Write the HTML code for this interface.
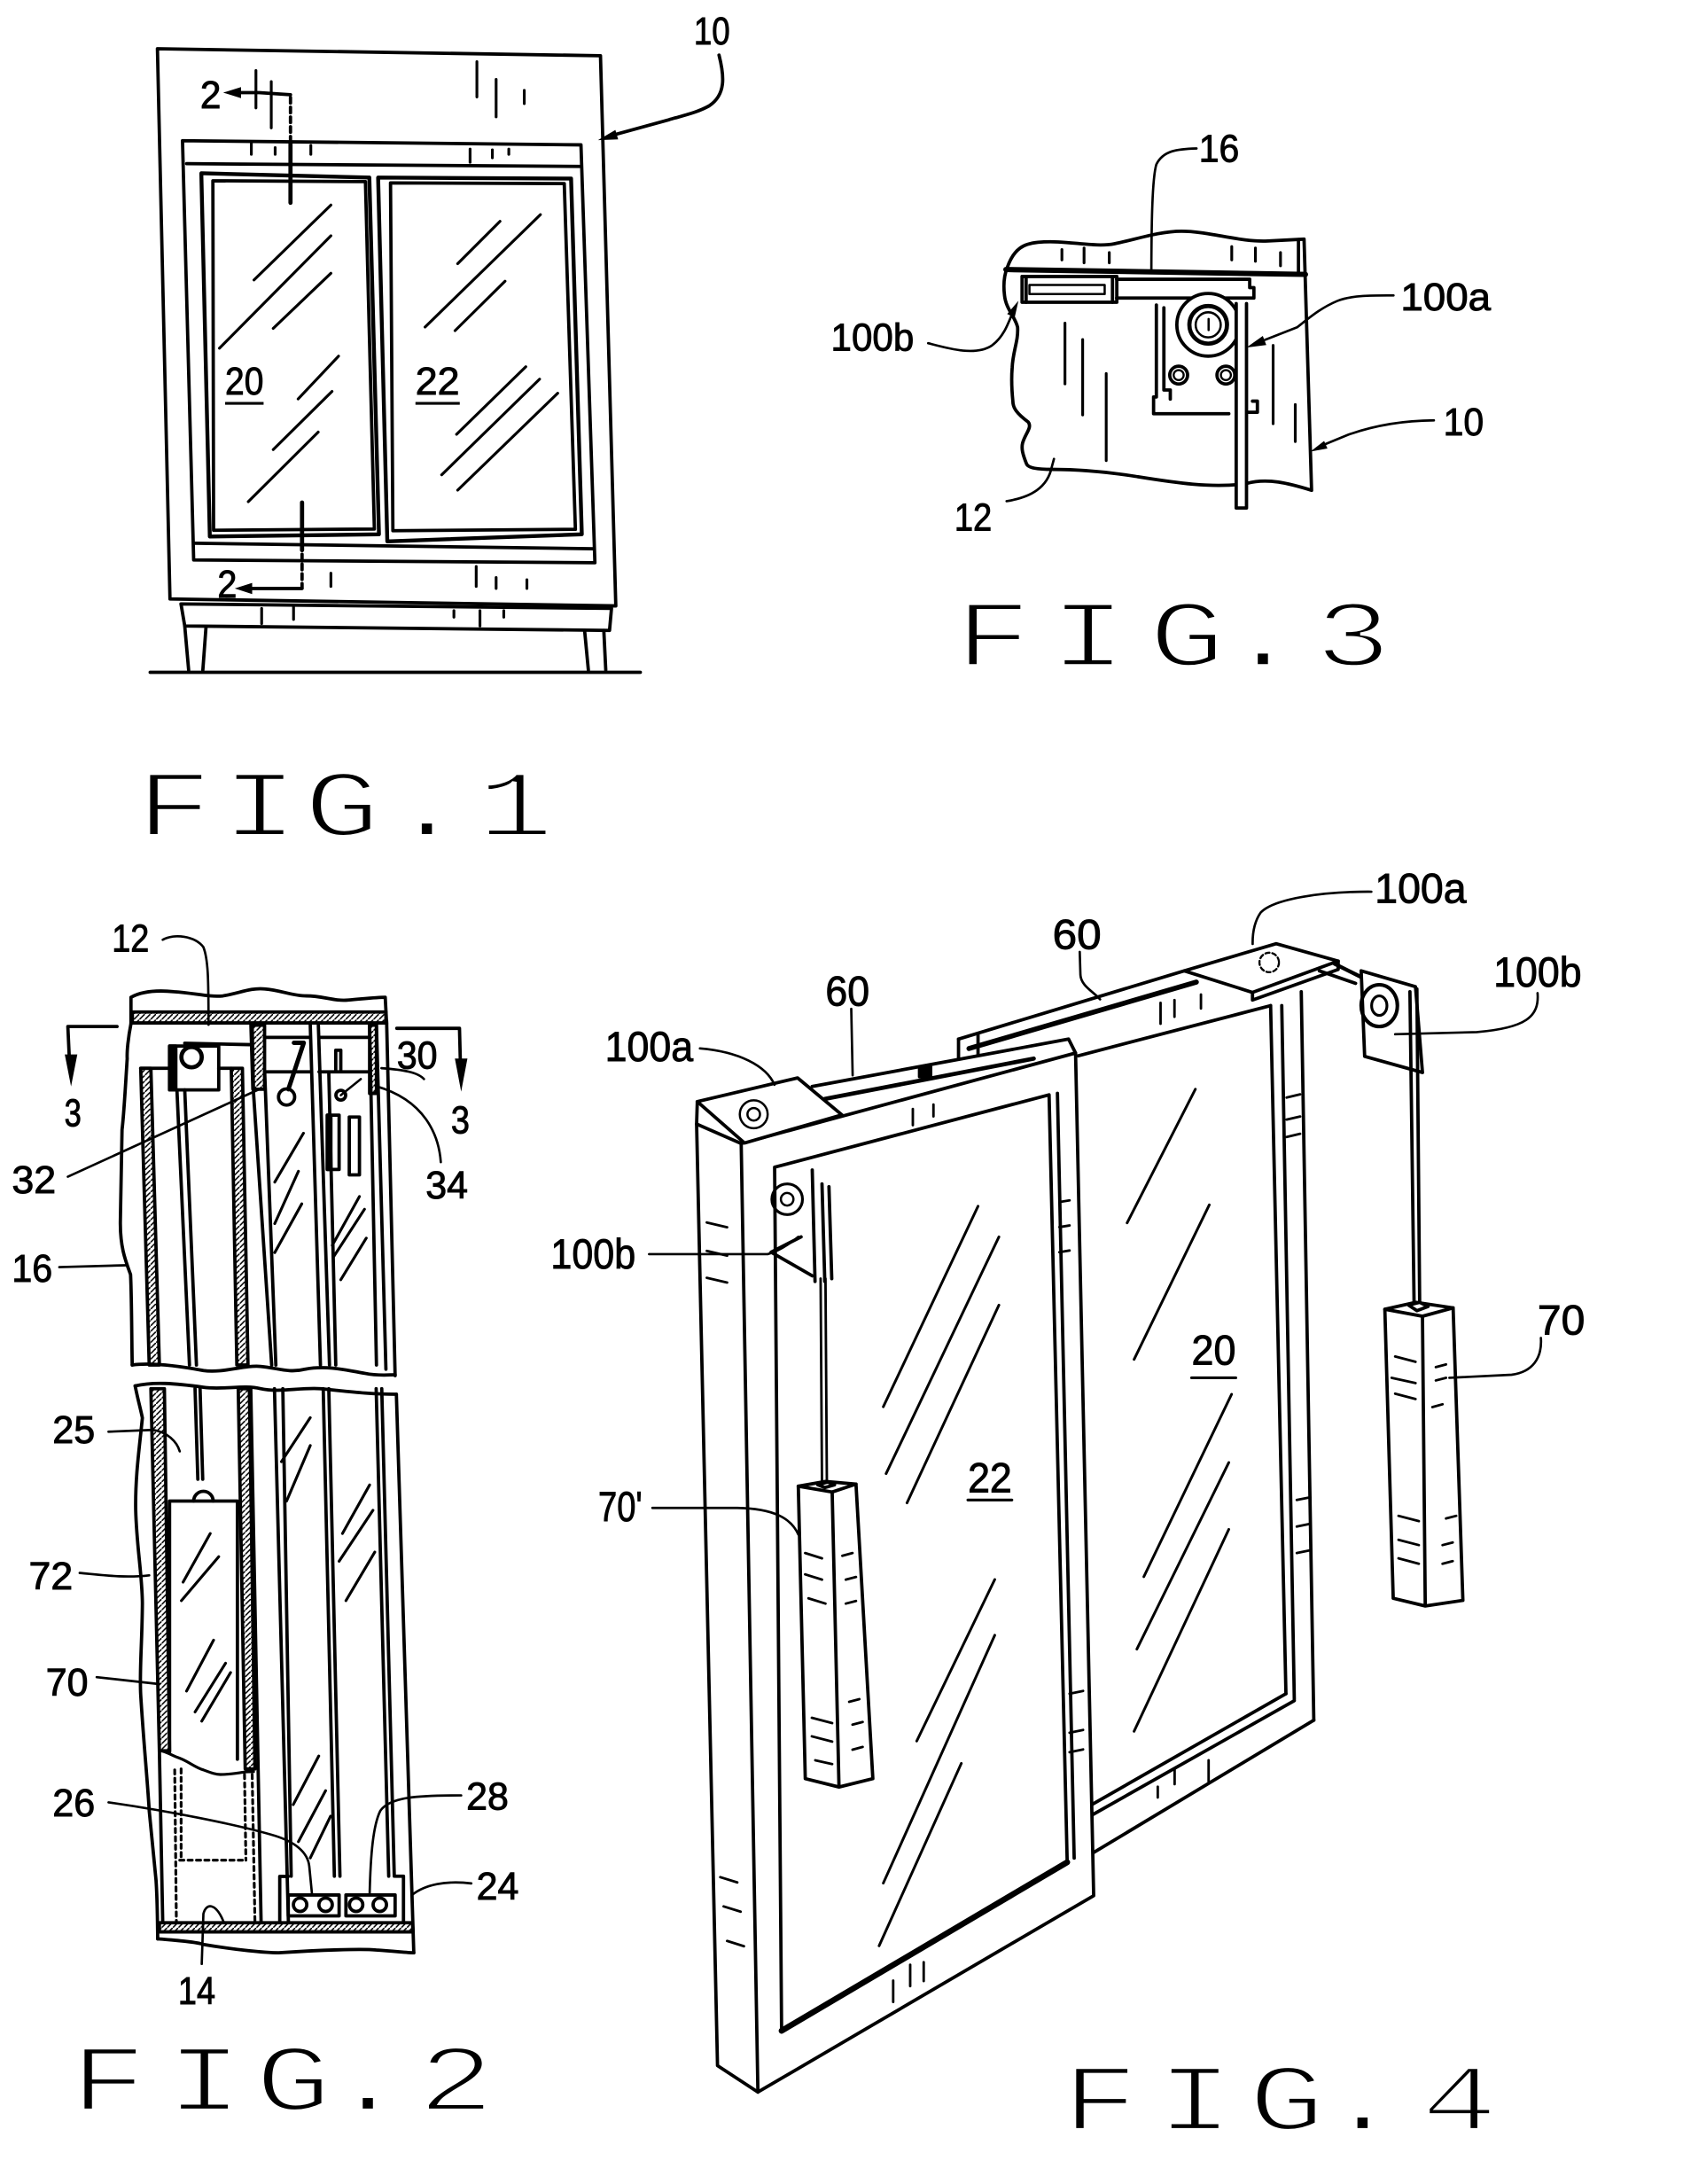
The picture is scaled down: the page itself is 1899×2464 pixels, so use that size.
<!DOCTYPE html>
<html><head><meta charset="utf-8"><style>
html,body{margin:0;padding:0;background:#fff;}
svg{display:block;}
.l{font-family:"Liberation Sans",Arial,sans-serif;font-size:28px;fill:#000;stroke:#000;stroke-width:0.6px;}
.f{font-family:"Liberation Mono","DejaVu Sans Mono",monospace;font-size:68px;fill:#000;stroke:#fff;stroke-width:2.4px;}
</style></head><body>
<svg width="1899" height="2464" viewBox="0 0 1208 1568" preserveAspectRatio="none" xmlns="http://www.w3.org/2000/svg">
<defs>
<pattern id="h" patternUnits="userSpaceOnUse" width="4" height="4"><path d="M-1,5 L5,-1" stroke="#000" stroke-width="1"/></pattern>
</defs>
<rect x="0" y="0" width="1208" height="1568" fill="#fff"/>

<!-- ================= FIG 1 ================= -->
<g stroke="#000" fill="none" stroke-width="2.4" stroke-linejoin="round" stroke-linecap="round">
<polygon points="113,35 431,40 442,435 122,430"/>
<polygon points="131,101 417,104 427,404 139,402"/>
<line x1="134" y1="117.5" x2="416" y2="119.5"/>
<line x1="140" y1="390" x2="426" y2="394"/>
<polygon points="144.5,124.4 265.1,127.5 272,383.6 150.6,385.2" stroke-width="2.8"/>
<polygon points="152.8,129.8 262.3,130.4 268.7,379.8 153.3,380.7"/>
<polygon points="271.4,127.5 409.9,128.2 417.6,383.6 278,388.7" stroke-width="2.8"/>
<polygon points="280.3,131.3 405,131.8 413,380 282,381"/>
<polygon points="129.9,433.6 438.9,436.8 437.5,452.6 132.6,449.4"/>
<path d="M132.6,449.4 L135.4,481 M147.8,451 L145.6,481 M419.6,452.6 L422.3,481 M433.4,452.6 L434.8,481"/>
<line x1="107.8" y1="482.7" x2="459.6" y2="482.7"/>
<g stroke-width="2">
<path d="M182.3,201 L237.5,147.2 M157.5,250 L237.5,169.3 M196.1,235.8 L237.5,196.2 M214,286.4 L243,255.7 M196.1,322.8 L238.3,281 M178.2,360.2 L228.4,310.2"/>
<path d="M328.5,189.3 L358.9,158.9 M305.1,234.8 L387.9,154.1 M326.6,237.4 L362.5,201.9 M327.7,311.8 L377.4,263.3 M317,340.9 L387.3,272.2 M328.5,351.9 L400.3,282.3"/>
<path d="M342.3,44.3 V69.6 M356.1,57 V83.9 M376.3,64.9 V74.4 M180.4,102.9 V110.8 M197.5,106 V110.8 M223.1,104.4 V110.8 M337.4,107 V116.5 M353.4,107.6 V113.3 M365.2,107 V110.8 M341.8,406.7 V421 M356.1,414.6 V422.5 M378.2,416.2 V422.5 M237.5,411.5 V421 M187.8,436.8 V447.8 M210.7,435.2 V444.7 M325.8,438.4 V443.1 M344.5,438.4 V449.4 M361.6,438.4 V443.1 M183.7,50.6 V77.5 M194.7,58.6 V91.8"/>
</g>
<path d="M208.5,68 L186,66.5 L170,66.5"/>
<path d="M208.5,70 L208.5,101" stroke-dasharray="4,3"/>
<path d="M208.5,103 L208.5,145.6" stroke-width="3"/>
<path d="M216.8,360.8 L216.8,395" stroke-width="3"/>
<path d="M216.8,398 L216.8,422" stroke-dasharray="4,3"/>
<path d="M216.8,422.5 L176,422.5"/>
<path d="M516.1,39.6 C520,55 521,68 509,76 C500,81 490,83 480,86 L440,97"/>
</g>
<g fill="#000" stroke="none">
<polygon points="160.2,66.5 173,62.5 173,70.5"/>
<polygon points="168.5,422.5 181,418.5 181,426.5"/>
<polygon points="429.2,100.6 443.7,100.1 441.7,93.3"/>
</g>
<text class="l" x="498" y="31.7" textLength="26" lengthAdjust="spacingAndGlyphs">10</text>
<text class="l" x="161.6" y="283.3" textLength="27.6" lengthAdjust="spacingAndGlyphs">20</text>
<text class="l" x="298.2" y="283.3" textLength="31.7" lengthAdjust="spacingAndGlyphs">22</text>
<path d="M161.6,289.6 H189.2 M298.2,289.6 H330" stroke="#000" stroke-width="2"/>
<text class="l" x="143.7" y="77.5" textLength="15" lengthAdjust="spacingAndGlyphs">2</text>
<text class="l" x="156.1" y="429" textLength="14" lengthAdjust="spacingAndGlyphs">2</text>
<g transform="translate(125,600) scale(1.35,1)"><text class="f" x="0 45.6 89.2 134.4 181.5" y="0" text-anchor="middle">FIG.1</text></g>

<!-- ================= FIG 3 ================= -->
<g stroke="#000" fill="none" stroke-width="2.4" stroke-linejoin="round" stroke-linecap="round">
<path d="M723,192 C728,178 735,175 745,174 C765,172 785,178 800,175 C815,172 832,166 848,166 C868,166 890,174 910,173 L936,171.7 L941.4,352 C925,347 910,343 895,347 C870,351 840,346 815,342 C790,338 770,337 755,337 C745,337 738,336 736.8,333 C734,326 733,322 734,318 C736,311 741,307 738,303 C730,297 727,293 727,288 C726,278 726,270 726.5,264 C727,252 731,245 730.4,235 C729,228 722,222 721,212 C720,204 721,197 723,192 Z"/>
<path d="M932,172 L932,195"/>
<path d="M722,193.5 L937,197" stroke-width="3.8"/>
<rect x="733.6" y="198.5" width="68" height="18.5"/>
<rect x="738.9" y="204.6" width="54" height="6.5" stroke-width="1.6"/>
<path d="M736.5,198.5 V217 M798.5,198.5 V217"/>
<path d="M801.5,200.5 L897,200.5 L897,206.5 L900,206.5 L900,214 L801.5,214"/>
<path d="M830,219 V285 H828 V297 H882 M835.4,221 V280 H840 V286.5 M892.6,220 V288 M899,288 H902.5 V296 H894.7"/>
<circle cx="867.2" cy="233.2" r="22.5" fill="#fff"/>
<circle cx="867.2" cy="233.2" r="13.5" stroke-width="3"/>
<circle cx="867.2" cy="233.2" r="9" stroke-width="1.6"/>
<path d="M867.5,229 V237" stroke-width="1.6"/>
<circle cx="846" cy="269.3" r="6.4"/><circle cx="846" cy="269.3" r="3.6" stroke-width="1.5"/>
<circle cx="879.9" cy="269.3" r="6.4"/><circle cx="879.9" cy="269.3" r="3.6" stroke-width="1.5"/>
<path d="M887.3,218 V364.7 H894.7 V218" fill="#fff"/>
<g stroke-width="2">
<path d="M764.4,232 V275.6 M777.1,243.8 V297.9 M794,268.2 V330.7 M913.8,248 V304.2 M929.7,290.5 V317"/>
<path d="M762.2,179.2 V186.6 M778.1,178.1 V188.7 M796.2,181.3 V188.7 M884.1,177 V186.6 M901.1,178.1 V187.6 M919.1,181.3 V190.8"/>
</g>
<g stroke-width="1.7">
<path d="M858.8,106.6 C845,107 835,108 830,118 C827,128 826.5,160 826.4,195"/>
<path d="M1000.2,212.1 C985,212 970,212 960,216 C948,221 940,228 931,235 L908,244"/>
<path d="M666.2,246.4 C680,250 700,256 712,248 C720,242 723,234 727,224"/>
<path d="M1029.2,301.8 C1005,302 985,306 968,312 L951,319"/>
<path d="M722.5,359.8 C740,357 752,350 755,335 L756.5,329.5"/>
</g>
</g>
<g fill="#000">
<polygon points="894.6,249.5 908.9,247.7 906.4,241.2"/>
<polygon points="731,216 728.3,228 722.9,225.4"/>
<polygon points="940.6,324.2 952.8,322 950.4,316.6"/>
</g>
<text class="l" x="860.5" y="116" textLength="29" lengthAdjust="spacingAndGlyphs">16</text>
<text class="l" x="1005.3" y="222.7" textLength="64.7" lengthAdjust="spacingAndGlyphs">100a</text>
<text class="l" x="596.4" y="251.7" textLength="59.6" lengthAdjust="spacingAndGlyphs">100b</text>
<text class="l" x="1036" y="312.3" textLength="29" lengthAdjust="spacingAndGlyphs">10</text>
<text class="l" x="685" y="381" textLength="27" lengthAdjust="spacingAndGlyphs">12</text>
<g transform="translate(712.9,478) scale(1.35,1)"><text class="f" x="0 50.5 103 143.4 191.3" y="0" text-anchor="middle">FIG.3</text></g>

<!-- ================= FIG 2 ================= -->
<g stroke="#000" fill="none" stroke-width="2.4" stroke-linejoin="round" stroke-linecap="round">
<path d="M94,735 L94,716 C103,711 115,711 125,712 C140,713 150,716 160,715 C172,713 180,709 190,710 C202,711 210,715 220,715 C232,715 240,719 250,718 C262,717 270,716 276.5,716 L277.5,735"/>
<polygon points="95,726.6 277,726.6 277,734.4 95,734.4" fill="url(#h)"/>
<path d="M94,735 C92,745 91,755 91.3,760 C90,780 89,800 87.6,811 C87,840 86.5,860 86.4,876 C86,895 90,905 93.7,915 C94.5,930 94.5,960 94.9,980"/>
<path d="M277.5,733 L283.6,987.6"/>
<path d="M94.9,980 C110,978 130,981 146,984 C160,986 175,980 187,981 C199,982 207,986 219,983 C235,980 250,984 262,986 C272,988 279,987 283.6,987"/>
<polygon points="101,767 108.3,767 114.4,980 107.1,980" fill="url(#h)"/>
<path d="M101,767 H121.7"/>
<rect x="121.7" y="751" width="35.3" height="31.5"/>
<rect x="121.7" y="751" width="4.5" height="31.5" fill="#000"/>
<path d="M132.6,749 L179,750"/>
<circle cx="137.5" cy="759" r="7.3" stroke-width="3"/>
<path d="M157,767 H166"/>
<polygon points="166,767 174,767 178,980 170,980" fill="url(#h)"/>
<path d="M127,782.5 L136,980 M132.6,782.5 L141,980"/>
<polygon points="180.1,736 189.9,736 189.9,782 181.5,782" fill="url(#h)"/>
<path d="M189.9,744.8 H222.7 M189.9,769.5 H222.7"/>
<path d="M211,748.7 H218 L207,782" stroke-width="3.2"/>
<circle cx="205.7" cy="787.6" r="5.8"/>
<path d="M229,744.8 H265.3 M229,769.5 H265.3"/>
<path d="M241,769 V754 H244.6 V769"/>
<circle cx="244.6" cy="786.3" r="3.5"/>
<path d="M244.6,786.3 L259,774.7" stroke-width="1.6"/>
<rect x="234.9" y="800.6" width="8.5" height="39"/>
<rect x="234.9" y="800.6" width="2.6" height="39" fill="#000"/>
<rect x="250.7" y="802" width="7.3" height="41.5"/>
<polygon points="265.3,736 270.2,736 270.2,785 265.3,785" fill="url(#h)"/>
<path d="M181,736 L182,785 L195,980 M190,770 L198,980 M222.7,736 L230,980 M228.5,736 L236.5,980 M236,770 L241,980 M265.3,736 L270.2,980 M270.2,736 L277,983"/>
<g stroke-width="2">
<path d="M197.2,848.7 L217.8,813.6 M197.2,878.5 L214.2,840.9 M197.2,899.3 L216.6,864.3 M238.5,894.1 L258,859 M239.7,901.9 L261.6,868.2 M244.6,918.8 L262.9,888.9"/>
</g>
<path d="M84,737 L48.7,737 L50,765"/>
<path d="M284.8,738.3 L329.8,738.3 L330.5,765"/>
<path d="M97,995 C110,992 125,993 146,996 C160,998 175,994 187,997 C200,1000 215,996 230,997 C250,999 265,1001 284.5,1001"/>
<path d="M97,995 C99,1005 101,1012 102.2,1018 C100,1040 97,1060 97.4,1084 C98,1110 102,1130 102.2,1151 C102,1180 100,1200 101,1217 C103,1250 106,1280 107.1,1300 C109,1320 111,1340 112,1350 C113,1365 113,1380 113.2,1392"/>
<path d="M284.5,1001 L297,1402"/>
<polygon points="114.4,1380.4 296,1380.4 296.5,1387 114.4,1387" fill="url(#h)"/>
<path d="M113.2,1392 C125,1393 140,1394 146,1396 C170,1400 190,1402 200,1402 C230,1400 260,1399 270,1400 C285,1401 292,1402 297,1402"/>
<polygon points="108.3,997 118,997 121.7,1257 114.4,1257" fill="url(#h)"/>
<path d="M114.4,1257 L116.8,1380"/>
<path d="M140,997 L142,1062 M143.6,997 L145.5,1062"/>
<path d="M121.7,1258 V1077.7 H170.4 V1263"/>
<path d="M139,1077.7 A7,7 0 0 1 153,1077.7"/>
<path d="M116.8,1257.3 C122,1259 125,1261 129,1262.3 C136,1265 140,1269 146,1270.7 C152,1273 155,1274 158.2,1274 C165,1274 170,1273 175.2,1272.3 C178,1272 180,1272 182,1272" stroke-width="2"/>
<g stroke-dasharray="3,3" stroke-width="2">
<path d="M125.4,1270.7 L126.6,1380 M130,1270 L130,1335.5 M181,1274 L183,1380 M175.5,1274 L176.5,1335.5 M129,1335.5 H176.5"/>
</g>
<polygon points="171,997 179,997 183,1270 176,1270" fill="url(#h)"/>
<path d="M180,997 L187.4,1380"/>
<path d="M197,997 L207,1380 M203,997 L209,1347 M232,997 L240,1347 M236,997 L244,1347 M270,997 L279,1347 M274,997 L283,1347"/>
<path d="M200.8,1380 V1347.2 H206.9"/>
<rect x="206.9" y="1360.5" width="36.5" height="15"/>
<rect x="248.3" y="1360.5" width="35.3" height="15"/>
<path d="M284,1347 H289.6 V1380"/>
<circle cx="215.4" cy="1367.5" r="4.8"/><circle cx="233.7" cy="1367.5" r="4.8"/>
<circle cx="255.6" cy="1367.5" r="4.8"/><circle cx="272.6" cy="1367.5" r="4.8"/>
<g stroke-width="2">
<path d="M202,1049.4 L222.7,1017.8 M205.7,1077.7 L222.7,1037.8 M210.5,1295.6 L228.8,1260.7 M214.2,1322.2 L233.7,1285.6 M222.7,1333.9 L237.3,1303.9"/>
<path d="M245.8,1101 L265.3,1066.1 M243.4,1120.9 L267.7,1084.3 M248.3,1149.2 L269,1114.3"/>
<path d="M131.4,1135.9 L150.9,1101 M130.2,1149.2 L157,1117.6 M133.9,1214.1 L153.3,1177.5 M140,1229.1 L161.9,1194.1 M144.8,1235.7 L165.5,1200.8"/>
</g>
<g stroke-width="1.7">
<path d="M116.8,674.7 C125,670 140,672 146,680 C150,690 149.5,710 149.7,735.7"/>
<path d="M304.3,774.7 C300,770 290,768 273.8,766.9"/>
<path d="M48.7,844.8 L185,782.5"/>
<path d="M316.4,834.4 C315,815 305,790 270.2,779.9"/>
<path d="M42.6,909.7 L90,908.4"/>
<path d="M77.9,1027.9 L109.5,1026.6 C120,1028 127,1035 129,1042"/>
<path d="M57.2,1129.3 C75,1131 90,1133 107.1,1131"/>
<path d="M69.4,1204.1 L114.4,1209.1"/>
<path d="M77.9,1294 C120,1300 170,1310 194.7,1317.2 C212,1322 221,1330 222,1340 L224,1360.5"/>
<path d="M331,1289 C300,1289 280,1290 273,1300 C268,1310 266,1330 265.3,1360.5"/>
<path d="M338.3,1352.2 C320,1350 305,1353 295.7,1360.5"/>
<path d="M144.8,1410 L146,1374 C148,1366 155,1366 160.6,1380"/>
</g>
</g>
<g fill="#000">
<polygon points="51,780 46.5,757 55.5,757"/>
<polygon points="331,783.8 326.5,760 335.5,760"/>
</g>
<text class="l" x="80.3" y="683" textLength="26.8" lengthAdjust="spacingAndGlyphs">12</text>
<text class="l" x="46.2" y="808.4" textLength="12.2" lengthAdjust="spacingAndGlyphs">3</text>
<text class="l" x="323.7" y="813.6" textLength="13.4" lengthAdjust="spacingAndGlyphs">3</text>
<text class="l" x="284.8" y="767" textLength="29.2" lengthAdjust="spacingAndGlyphs">30</text>
<text class="l" x="8.5" y="856.5" textLength="31.7" lengthAdjust="spacingAndGlyphs">32</text>
<text class="l" x="305.5" y="860.4" textLength="30.4" lengthAdjust="spacingAndGlyphs">34</text>
<text class="l" x="8.5" y="920.1" textLength="29.2" lengthAdjust="spacingAndGlyphs">16</text>
<text class="l" x="37.7" y="1036" textLength="30.5" lengthAdjust="spacingAndGlyphs">25</text>
<text class="l" x="20.7" y="1141" textLength="31.6" lengthAdjust="spacingAndGlyphs">72</text>
<text class="l" x="32.9" y="1217.4" textLength="30.4" lengthAdjust="spacingAndGlyphs">70</text>
<text class="l" x="37.7" y="1304" textLength="30.5" lengthAdjust="spacingAndGlyphs">26</text>
<text class="l" x="334.7" y="1299" textLength="30.4" lengthAdjust="spacingAndGlyphs">28</text>
<text class="l" x="342" y="1363.8" textLength="30.4" lengthAdjust="spacingAndGlyphs">24</text>
<text class="l" x="127.8" y="1438.7" textLength="26.8" lengthAdjust="spacingAndGlyphs">14</text>
<g transform="translate(77.9,1515) scale(1.35,1)"><text class="f" x="0 51 98.2 137.9 184.8" y="0" text-anchor="middle">FIG.2</text></g>

<!-- ================= FIG 4 ================= -->
<g stroke="#000" fill="none" stroke-width="2.4" stroke-linejoin="round" stroke-linecap="round">
<path d="M688,746 L850,697"/>
<path d="M695.5,752.8 L858.7,705.1" stroke-width="3.6"/>
<path d="M688,746 L688,760 M702,742 L702,757"/>
<path d="M773.9,758 L912,722"/>
<path d="M912,722 L923,1216 M920,722 L929,1220 M934,712 L943,1235"/>
<path d="M943,1235 L785,1330 M923,1216 L783,1296 M929,1221 L784,1303"/>
<polygon points="850,697 916,677.5 960.5,690 899,712.5" fill="#fff"/>
<path d="M899,712.5 L899,718 L960.5,696 L960.5,690"/>
<circle cx="911" cy="691" r="7" stroke-width="1.5" stroke-dasharray="3,2"/>
<path d="M958,692 L978,702" stroke-width="2.8"/>
<path d="M947,697 L973,706"/>
<polygon points="977,697 1016,708.4 1021,770 979.5,758.4" fill="#fff"/>
<ellipse cx="990" cy="722" rx="13" ry="15" stroke-width="2.6"/>
<ellipse cx="990" cy="722" rx="5.5" ry="7" stroke-width="2"/>
<path d="M1012,712 L1015,937 M1017,710 L1019,937"/>
<polygon points="994,940 1016,935 1043,939 1021,945" fill="#fff"/>
<path d="M994,940 L1000,1147.5 L1023,1153 L1050,1149 L1043,939 M1021,945 L1023,1153"/>
<path d="M1011,937 L1019,935 L1025,938 L1017,941 Z" fill="#fff"/>
<polygon points="532,821 772,756 785,1361 544,1502" fill="#fff"/>
<path d="M500,807 L515,1483 L544,1502"/>
<path d="M500,807 L532,821"/>
<polygon points="556,838 753,786 766,1337 561,1458"/>
<path d="M759,785 L771,1334"/>
<path d="M561,1458 L766,1337" stroke-width="4.2"/>
<path d="M583,780 L767,746 L772,756"/>
<path d="M592,789 L742,760" stroke-width="3"/>
<rect x="660" y="766" width="8" height="7" fill="#000"/>
<polygon points="500.5,790.9 572.5,773.9 604.3,800.4 534.4,820.6" fill="#fff"/>
<path d="M500.5,790.9 L500,807"/>
<circle cx="541" cy="800" r="10" stroke-width="1.6"/>
<circle cx="541" cy="800" r="4.5" stroke-width="1.6"/>
<circle cx="565" cy="861" r="11" stroke-width="2"/>
<circle cx="565" cy="861" r="4.5" stroke-width="1.6"/>
<path d="M583,840 L585,920 M590,850 L592,920 M595,852 L597,918 M553.5,899 L583,916 M553.5,899 L575,888"/>
<path d="M589,918 L590,1065 M592.5,918 L593.5,1064" stroke-width="1.8"/>
<polygon points="573,1067 592.5,1063.6 614.4,1065.5 597.3,1071.2" fill="#fff"/>
<path d="M573,1067 L578,1277 L602.2,1283 L626.5,1277 L614.4,1065.5 M597.3,1071.2 L602.2,1283"/>
<path d="M587,1066 L594,1064 L599,1066 L592,1068 Z"/>
<g stroke-width="1.9">
<path d="M634,1010 L702,866 M636,1058 L717,888 M651,1079 L717,937 M658,1250 L714,1134 M634,1352 L714,1174 M631,1397 L690,1266"/>
<path d="M809,878 L858,782 M814,976 L868,865 M821,1132 L884,1001 M816,1184 L882,1050 M814,1243 L882,1098"/>
</g>
<g stroke-width="1.8">
<path d="M517,1347.7 L529.2,1351.5 M519.4,1368.7 L531.6,1372.5 M521.9,1393.5 L534,1397.3 M507.3,877.7 L521.9,881.1 M507.3,898.1 L521.9,901.5 M507.3,917.4 L521.9,920.8"/>
<path d="M641.1,1422 V1437.3 M653.3,1410.6 V1425.9 M663,1408.8 V1422.3 M655.2,796.2 V807.8 M670,793 V801.5"/>
<path d="M760.4,863 L767.7,861.8 M760.4,881 L767.7,879.8 M760.4,899 L767.7,897.8 M767.7,1216 L777.4,1214 M767.7,1244 L777.4,1242 M767.7,1258 L777.4,1256"/>
<path d="M930.8,1076.9 L940.5,1075 M930.8,1096 L940.5,1094 M930.8,1115 L940.5,1113 M923.5,788 L933.2,785.7 M923.5,803.8 L933.2,801.6 M923.5,816.3 L933.2,814"/>
<path d="M831,1282.8 V1290.5 M843.1,1269.5 V1280.9 M867.5,1263.8 V1279 M833,720 V735 M843,718 V730 M862,714 V724"/>
<path d="M577.9,1115 L590,1118.8 M577.9,1130.3 L590,1134.1 M580.3,1147.5 L592.5,1151.3 M604.6,1117 L611.9,1115 M607.1,1134.1 L614.4,1132.2 M607.1,1151.3 L614.4,1149.4 M582.7,1233.3 L597.3,1237.1 M582.7,1246.6 L597.3,1250.4 M585.2,1263.8 L597.3,1266.5 M609.5,1221.8 L616.8,1219.9 M611.9,1238.2 L619.2,1236.3 M611.9,1256.2 L619.2,1254.2"/>
<path d="M1001.4,973.9 L1016,977.7 M998.9,989.2 L1016,993 M1001.4,1000.6 L1016,1004.4 M1030.6,981.5 L1037.9,979.6 M1030.6,991.1 L1037.9,989.2 M1028.1,1010.2 L1035.4,1008.2 M1003.8,1088.3 L1018.4,1092.1 M1003.8,1105.5 L1018.4,1109.3 M1003.8,1118.8 L1018.4,1122.7 M1037.9,1090.2 L1045.2,1088.3 M1035.4,1109.3 L1042.7,1107.4 M1035.4,1122.7 L1042.7,1120.8"/>
</g>
<g stroke-width="1.7">
<path d="M984.3,640.2 C950,640 915,645 905,655 C900,662 899,670 899.1,677.7"/>
<path d="M775,683.4 L775.5,700 C776,708 785,712 789.6,717.5"/>
<path d="M611,724.3 L612,772"/>
<path d="M502.4,752.7 C530,755 550,765 555.9,778.8"/>
<path d="M1103.6,713 C1105,730 1095,738 1060,741 L1001.4,742.5"/>
<path d="M465.9,900.4 L551,900.4 C560,898 568,892 573,888"/>
<path d="M1106,960.6 C1107,975 1100,985 1085,987 L1040.3,989.2"/>
<path d="M468.3,1082.6 L529.2,1082.6 C555,1083 568,1090 573,1101.7"/>
</g>
<path d="M694.7,1076.9 H726.3 M855.3,989.2 H887" stroke-width="2"/>
</g>
<text class="l" style="font-size:30px" x="986.8" y="648.2" textLength="65.7" lengthAdjust="spacingAndGlyphs">100a</text>
<text class="l" style="font-size:30px" x="755.5" y="681.1" textLength="35" lengthAdjust="spacingAndGlyphs">60</text>
<text class="l" style="font-size:30px" x="592.5" y="722" textLength="31.6" lengthAdjust="spacingAndGlyphs">60</text>
<text class="l" style="font-size:30px" x="434.2" y="761.8" textLength="63.3" lengthAdjust="spacingAndGlyphs">100a</text>
<text class="l" style="font-size:30px" x="1072" y="708.4" textLength="63.2" lengthAdjust="spacingAndGlyphs">100b</text>
<text class="l" style="font-size:30px" x="395.3" y="910.6" textLength="60.9" lengthAdjust="spacingAndGlyphs">100b</text>
<text class="l" style="font-size:30px" x="1103.6" y="958" textLength="34" lengthAdjust="spacingAndGlyphs">70</text>
<text class="l" style="font-size:30px" x="429.4" y="1092.1" textLength="31.6" lengthAdjust="spacingAndGlyphs">70'</text>
<text class="l" style="font-size:30px" x="694.7" y="1071.2" textLength="31.6" lengthAdjust="spacingAndGlyphs">22</text>
<text class="l" style="font-size:30px" x="855.3" y="979.6" textLength="31.7" lengthAdjust="spacingAndGlyphs">20</text>
<g transform="translate(789.7,1529) scale(1.35,1)"><text class="f" x="0 50.4 99.1 139.5 191" y="0" text-anchor="middle">FIG.4</text></g>
</svg>
</body></html>
